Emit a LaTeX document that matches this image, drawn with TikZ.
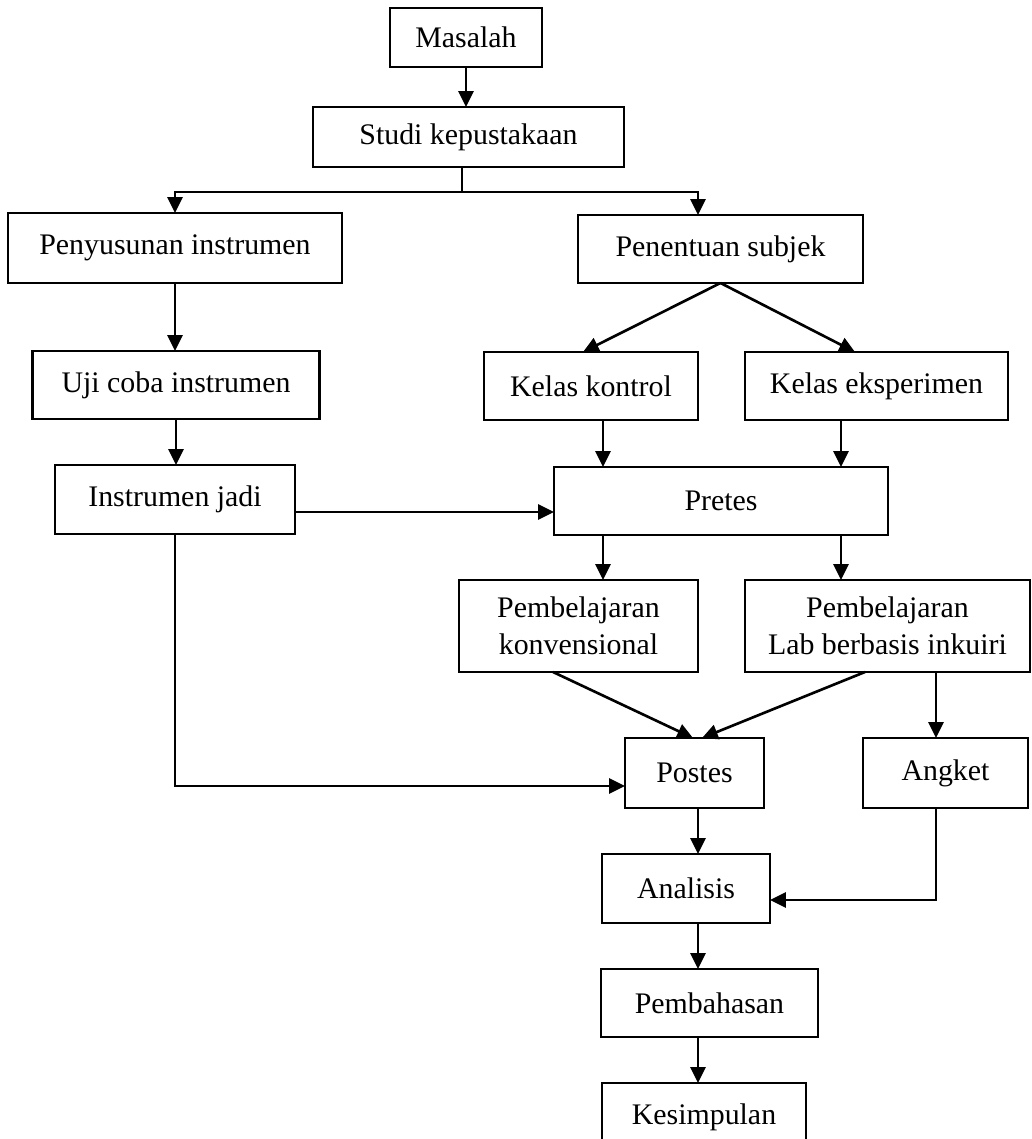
\documentclass[tikz,border=0pt]{standalone}
\usepackage{fontspec}
\setmainfont{Liberation Serif}
\usetikzlibrary{arrows.meta, positioning, calc}
\definecolor{cink}{RGB}{0,0,0}
\tikzset{
  box/.style={draw=cink, line width=1.5pt, align=center, inner sep=0pt, outer sep=0pt,
              font=\fontsize{17}{21}\selectfont},
  ln/.style={line width=1.5pt, draw=cink},
  arr/.style={ln, -{Triangle[length=9pt, width=8.5pt]}},
}

\begin{document}
\begin{tikzpicture}[x=0.02cm, y=-0.02cm]
\path[use as bounding box, clip] (0,0) rectangle (1031,1139);

% ---------- awal ----------
\node[box, minimum width=3.04cm, minimum height=1.18cm] (masalah) at (466,37.5) {Masalah};
\node[box, minimum width=6.22cm, minimum height=1.2cm] (studi) at (468.5,137) {Studi kepustakaan};

% ---------- jalur instrumen ----------
\node[box, minimum width=6.68cm, minimum height=1.4cm] (penyusunan) at (175,248) {Penyusunan instrumen};
\node[box, minimum width=5.74cm, minimum height=1.36cm] (uji) at (176,385) {Uji coba instrumen};
\node[box, minimum width=4.8cm, minimum height=1.38cm] (jadi) at (175,499.5) {Instrumen jadi};

% ---------- jalur subjek ----------
\node[box, minimum width=5.7cm, minimum height=1.36cm] (penentuan) at (720.5,249) {Penentuan subjek};
\node[box, minimum width=4.28cm, minimum height=1.36cm] (kontrol) at (591,386) {Kelas kontrol};
\node[box, minimum width=5.26cm, minimum height=1.36cm] (eksperimen) at (876.5,386) {Kelas eksperimen};
\node[box, minimum width=6.68cm, minimum height=1.36cm] (pretes) at (721,501) {Pretes};
\node[box, minimum width=4.78cm, minimum height=1.84cm] (konvensional) at (578.5,626) {Pembelajaran\\ konvensional};
\node[box, minimum width=5.7cm, minimum height=1.84cm] (inkuiri) at (887.5,626) {Pembelajaran\\ Lab berbasis inkuiri};
\node[box, minimum width=2.78cm, minimum height=1.4cm] (postes) at (694.5,773) {Postes};
\node[box, minimum width=3.3cm, minimum height=1.4cm] (angket) at (945.5,773) {Angket};

% ---------- akhir ----------
\node[box, minimum width=3.36cm, minimum height=1.38cm] (analisis) at (686,888.5) {Analisis};
\node[box, minimum width=4.34cm, minimum height=1.36cm] (pembahasan) at (709.5,1003) {Pembahasan};
\node[box, minimum width=4.08cm, minimum height=1.36cm] (kesimpulan) at (704,1117) {Kesimpulan};

% ---------- panah ----------
\coordinate (cabang) at (462,192);
\coordinate (kiri) at ($(kontrol.south)+(12,0)$);
\coordinate (kanan) at ($(eksperimen.south)+(-35.5,0)$);
\coordinate (jkanan) at ($(jadi.east)+(0,12.5)$);
\coordinate (jalur) at ($(angket.north)+(-9.5,0)$);
\coordinate (tengah) at ($(postes.south)+(3.5,0)$);

\draw[arr] (masalah.south) -- (masalah.south |- studi.north);
\draw[ln] (studi.south -| cabang) -- (cabang);
\draw[arr] (cabang) -| (penyusunan.north);
\draw[arr] (cabang) -| ($(penentuan.north)+(-22.5,0)$);
\draw[arr] (penyusunan.south) -- (penyusunan.south |- uji.north);
\draw[arr] (uji.south) -- (uji.south |- jadi.north);
\draw[arr] (penentuan.south) -- ($(kontrol.north)+(-8,0)$);
\draw[arr] (penentuan.south) -- ($(eksperimen.north)+(-21.5,0)$);
\draw[arr] (kiri) -- (kiri |- pretes.north);
\draw[arr] (kanan) -- (kanan |- pretes.north);
\draw[arr] (jkanan) -- (jkanan -| pretes.west);
\draw[arr] (kiri |- pretes.south) -- (kiri |- konvensional.north);
\draw[arr] (kanan |- pretes.south) -- (kanan |- inkuiri.north);
\draw[arr] (jadi.south) |- ($(postes.west)+(0,13)$);
\draw[arr] ($(konvensional.south)+(-25.5,0)$) -- ($(postes.north)+(-1.5,0)$);
\draw[arr] ($(inkuiri.south)+(-22.5,0)$) -- ($(postes.north)+(7.5,0)$);
\draw[arr] (jalur |- inkuiri.south) -- (jalur);
\draw[arr] (tengah) -- (tengah |- analisis.north);
\draw[arr] (jalur |- angket.south) |- ($(analisis.east)+(0,11.5)$);
\draw[arr] (tengah |- analisis.south) -- (tengah |- pembahasan.north);
\draw[arr] (tengah |- pembahasan.south) -- (tengah |- kesimpulan.north);

\end{tikzpicture}
\end{document}
